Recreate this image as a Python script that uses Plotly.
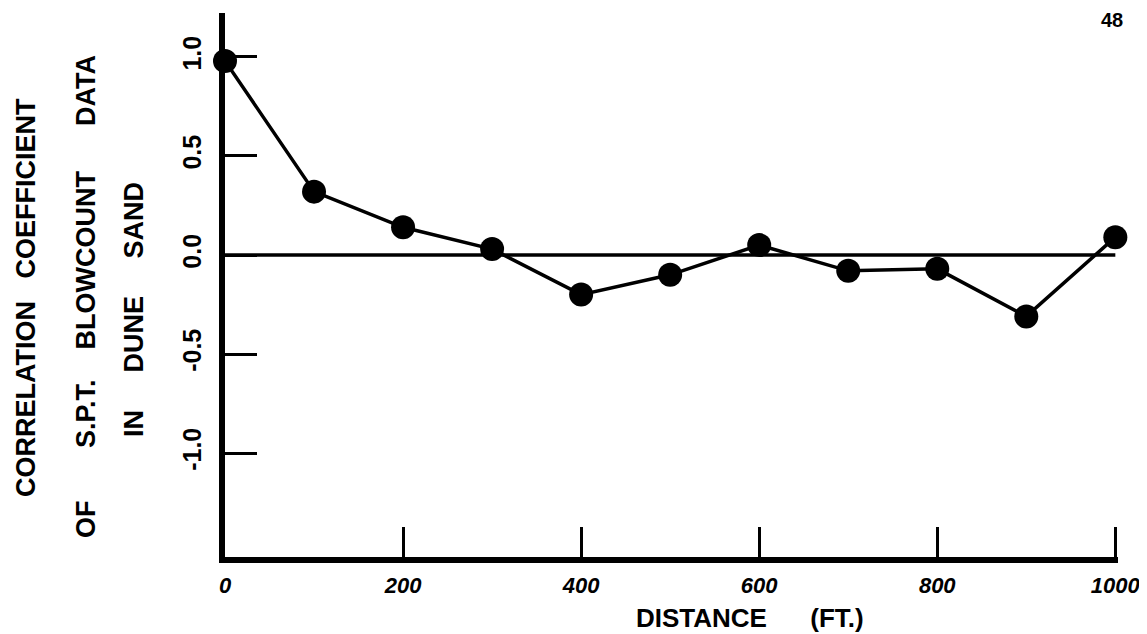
import plotly.graph_objects as go

# correlation of SPT blowcount vs. separation distance
distance = [0, 100, 200, 300, 400, 500, 600, 700, 800, 900, 1000]
correlation = [0.98, 0.32, 0.14, 0.03, -0.20, -0.10, 0.05, -0.08, -0.07, -0.31, 0.09]

x_tickvals = [0, 200, 400, 600, 800, 1000]
x_ticktext = ["0", "200", "400", "600", "800", "1000"]
y_tickvals = [-1.0, -0.5, 0.0, 0.5, 1.0]
y_ticktext = ["-1.0", "-0.5", "0.0", "0.5", "1.0"]

NB = "\u00a0"
ytitle_lines = [
    "CORRELATION" + NB * 3 + "COEFFICIENT",
    "OF" + NB * 7 + "S.P.T." + NB * 4 + "BLOWCOUNT" + NB * 6 + "DATA",
    "IN" + NB * 5 + "DUNE" + NB * 5 + "SAND",
]
xtitle = "DISTANCE" + NB * 6 + "(FT.)"

# page body has an 8px margin, so the figure is a bit smaller than the window
OFF = 8
W, H = 1147 - OFF, 634 - OFF
L, R, T, B = 225 - OFF, 29, 13 - OFF, 77
FONT = "Liberation Sans"


def px_to_paper(px, py):
    # window pixel -> paper coords, for the hand-lettered labels
    return (px - OFF - L) / (W - L - R), (H - B - (py - OFF)) / (H - T - B)


fig = go.Figure()

fig.add_trace(go.Scatter(
    x=distance, y=correlation,
    mode="lines+markers",
    line=dict(color="black", width=3.5),
    marker=dict(color="black", size=24),
    cliponaxis=False,
    showlegend=False,
))

# zero reference line
fig.add_shape(type="line", x0=0, x1=1000, y0=0, y1=0, xref="x", yref="y",
              line=dict(color="black", width=3.5))

fig.update_xaxes(
    range=[0, 1003],
    showline=True, linecolor="black", linewidth=6,
    showgrid=False, zeroline=False,
    tickmode="array", tickvals=x_tickvals, ticktext=x_ticktext,
    ticks="inside", ticklen=30, tickwidth=3, tickcolor="black",
    ticklabelstandoff=4,
    tickfont=dict(family=FONT, size=22, color="black", weight="bold", style="italic"),
)
fig.update_yaxes(
    range=[-1.525, 1.222],
    showline=True, linecolor="black", linewidth=6,
    showgrid=False, zeroline=False,
    tickmode="array", tickvals=y_tickvals, ticktext=y_ticktext,
    ticks="inside", ticklen=32, tickwidth=3, tickcolor="black",
    tickangle=-90,
    ticklabelstandoff=8,
    tickfont=dict(family=FONT, size=25, color="black", weight="bold"),
)

# three-line y title, rotated
for text, (px, py) in zip(ytitle_lines, [(26, 298), (86, 297), (134, 310)]):
    xp, yp = px_to_paper(px, py)
    fig.add_annotation(
        text=text, x=xp, y=yp, xref="paper", yref="paper",
        textangle=-90, showarrow=False, xanchor="center", yanchor="middle",
        font=dict(family=FONT, size=27, color="black", weight="bold"),
    )

xp, yp = px_to_paper(750, 618)
fig.add_annotation(
    text=xtitle, x=xp, y=yp, xref="paper", yref="paper",
    showarrow=False, xanchor="center", yanchor="middle",
    font=dict(family=FONT, size=26, color="black", weight="bold"),
)

# page number at the top right of the scan
xp, yp = px_to_paper(1112, 20)
fig.add_annotation(
    text="48", x=xp, y=yp, xref="paper", yref="paper",
    showarrow=False, xanchor="center", yanchor="middle",
    font=dict(family=FONT, size=20, color="black", weight="bold"),
)

fig.update_layout(
    width=W, height=H,
    margin=dict(l=L, r=R, t=T, b=B),
    paper_bgcolor="white", plot_bgcolor="white",
)

fig.write_html("out.html")
